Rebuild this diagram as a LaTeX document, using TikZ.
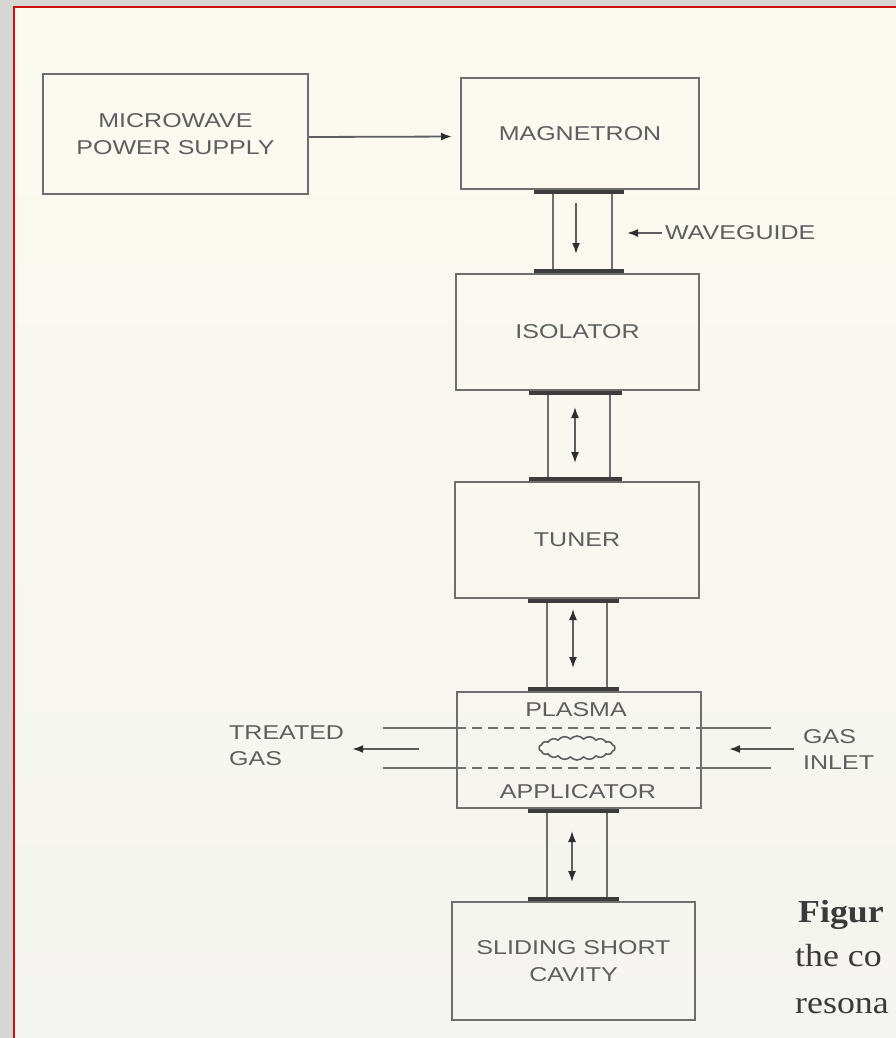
\documentclass[tikz,border=0pt]{standalone}
\usepackage{fontspec}
\setmainfont{Liberation Sans}
\newfontfamily\lettering[FakeStretch=1.25]{Liberation Sans}
\newfontfamily\capfont[FakeStretch=1.12]{Liberation Serif}
\usetikzlibrary{arrows.meta,shapes.symbols}
\definecolor{papertop}{HTML}{FCFAF0}
\definecolor{paperbot}{HTML}{F4F4F0}
\definecolor{framegray}{HTML}{D6D6D2}
\definecolor{framered}{HTML}{D01010}
\definecolor{boxgray}{HTML}{6E6E6E}
\definecolor{txtgray}{HTML}{5E5E5E}
\definecolor{bargray}{HTML}{3C3C3C}
\definecolor{headgray}{HTML}{2E2E2E}
\definecolor{capgray}{HTML}{3A3A3A}
\newcommand\wguide[4]{%
  \coordinate (gl) at (#3,0); \coordinate (gr) at (#4,0);
  \draw[wg] (gl |- #1.south) -- (gl |- #2.north);
  \draw[wg] (gr |- #1.south) -- (gr |- #2.north);
  \draw[bar] ([xshift=-19pt,yshift=-2pt]gl |- #1.south) -- ([xshift=12pt,yshift=-2pt]gr |- #1.south);
  \draw[bar] ([xshift=-19pt,yshift=2pt]gl |- #2.north) -- ([xshift=12pt,yshift=2pt]gr |- #2.north);
}
\begin{document}
\begin{tikzpicture}[x=1pt,y=-1pt,
  box/.style={draw=boxgray, line width=2pt, inner sep=0pt, align=center, text=txtgray,
    font=\lettering\fontsize{20}{27}\selectfont},
  wg/.style={draw=boxgray, line width=2pt},
  bar/.style={draw=bargray, line width=4pt},
  arr/.style={draw=txtgray, line width=1.8pt, -{Latex[length=11pt,width=8pt,color=headgray]}},
  darr/.style={draw=txtgray, line width=1.6pt,
    {Latex[length=11pt,width=8pt,color=headgray]}-{Latex[length=11pt,width=8pt,color=headgray]}},
  lbl/.style={text=txtgray, font=\lettering\fontsize{20}{26}\selectfont, inner sep=0pt, align=left},
  gasline/.style={draw=boxgray, line width=1.6pt},
  captext/.style={text=capgray, font=\capfont\fontsize{32}{40}\selectfont, inner sep=0pt},
]
\useasboundingbox (0,0) rectangle (896,1038);
% paper
\shade[top color=papertop, bottom color=paperbot] (0,0) rectangle (896,1038);
\fill[framegray] (0,0) rectangle (14,1038);
\fill[framegray] (0,0) rectangle (896,7);
\draw[framered, line width=2pt] (14,1038) -- (14,7) -- (896,7);

% blocks
\node[box, minimum width=265, minimum height=120] (supply) at (175.5,134) {MICROWAVE\\POWER SUPPLY};
\node[box, minimum width=238, minimum height=111] (mag) at (580,133.5) {MAGNETRON};
\node[box, minimum width=243, minimum height=116] (iso) at (577.5,332) {ISOLATOR};
\node[box, minimum width=244, minimum height=116] (tuner) at (577,540) {TUNER};
\node[box, minimum width=244, minimum height=116] (app) at (579,750) {};
\node[lbl] (plasma) at (576,710) {PLASMA};
\node[lbl] (applic) at (578,792) {APPLICATOR};
\node[box, minimum width=243, minimum height=118] (cav) at (573.5,961) {SLIDING SHORT\\CAVITY};

% power supply to magnetron
\draw[arr, shorten >=8pt] ([yshift=-3pt]supply.east) -- ([yshift=-3pt]mag.west);

% waveguides
\wguide{mag}{iso}{553}{612}
\wguide{iso}{tuner}{548}{610}
\wguide{tuner}{app}{547}{607}
\wguide{app}{cav}{547}{607}

% arrows inside waveguides
\draw[arr] (576,203) -- (576,254);
\draw[darr] (575,407) -- (575,463);
\draw[darr] (573,609) -- (573,668);
\draw[darr] (572,831) -- (572,882);

% waveguide label
\node[lbl, anchor=west] (wglabel) at (665,233) {WAVEGUIDE};
\coordinate (wgtip) at (627,233);
\draw[arr, shorten <=3pt] (wglabel.west) -- (wgtip);

% gas lines through applicator
\coordinate (ul) at (383,728); \coordinate (ur) at (771,728);
\coordinate (ll) at (383,768); \coordinate (lr) at (771,768);
\draw[gasline] (ul) -- (ul -| app.west);
\draw[gasline, dash pattern=on 10pt off 6pt] (ul -| app.west) -- (ur -| app.east);
\draw[gasline] (ur -| app.east) -- (ur);
\draw[gasline] (ll) -- (ll -| app.west);
\draw[gasline, dash pattern=on 10pt off 6pt] (ll -| app.west) -- (lr -| app.east);
\draw[gasline] (lr -| app.east) -- (lr);

% plasma
\node[cloud, cloud puffs=18, cloud puff arc=100, aspect=3.2, draw=txtgray, line width=1.6pt,
      minimum width=76, minimum height=24, inner sep=0pt] (ball) at (577,748) {};

% gas in / out
\node[lbl, anchor=west] (tgas) at (229,746) {TREATED\\GAS};
\coordinate (tgstart) at (419,749);
\draw[arr, shorten >=8pt] (tgstart) -- (tgstart -| tgas.east);
\node[lbl, anchor=west] (gin) at (803,750) {GAS\\INLET};
\coordinate (gitip) at (729,749);
\draw[arr, shorten <=9pt] (gitip -| gin.west) -- (gitip);

% cut-off caption
\node[captext, anchor=base west] (c1) at (798,922) {\bfseries Figur};
\node[captext, anchor=base west] (c2) at (795,966) {the co};
\node[captext, anchor=base west] (c3) at (795,1013) {resona};
\end{tikzpicture}
\end{document}
